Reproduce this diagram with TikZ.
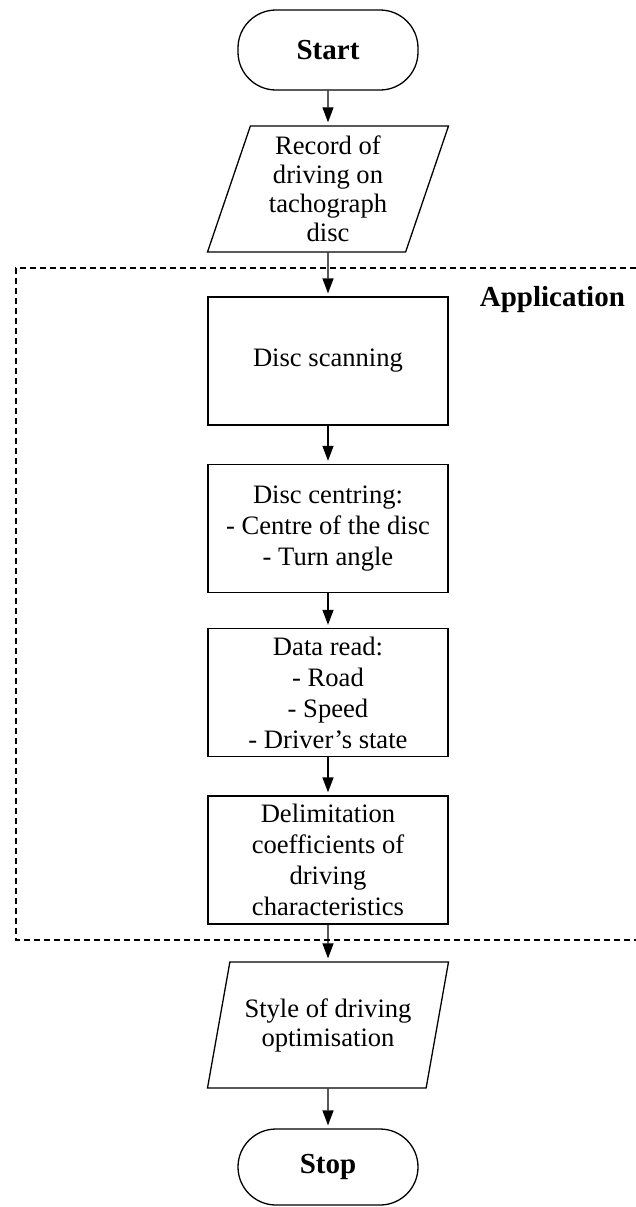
\documentclass[tikz,border=0pt]{standalone}
\usepackage{fontspec}
\setmainfont{Liberation Serif}
\usetikzlibrary{shapes.geometric,arrows.meta}
\newcommand{\txtfont}{\fontsize{13.3}{15.5}\selectfont}
\newcommand{\iofont}{\fontsize{13.3}{14.5}\selectfont}
\newcommand{\bigbf}{\fontsize{14.5}{17}\selectfont\bfseries}
\begin{document}
\begin{tikzpicture}[x=.5pt,y=-.5pt,
	every node/.style={font=\txtfont,align=center},
	term/.style={draw,line width=.65pt,rounded corners=19pt,minimum width=90pt,minimum height=40pt,font=\bigbf},
	proc/.style={draw,line width=.65pt,minimum width=120pt,minimum height=64pt,inner sep=1pt},
	io/.style={draw,line width=.65pt,trapezium,trapezium left angle=68.7,trapezium right angle=111.3,
		trapezium stretches body,minimum width=120.5pt,minimum height=63pt,inner sep=1pt,font=\iofont},
	flow/.style={line width=.65pt,-{Triangle[length=7.5pt,width=5.5pt]},shorten >=1.5pt},
	appframe/.style={line width=.55pt,dash pattern=on 3pt off 2pt}]
	\useasboundingbox (0,0) rectangle (636,1207);
	\node[term] (start) at (328,50) {Start};
	\node[io] (rec) at (328,189) {Record of\\driving on\\tachograph\\disc};
	\node[proc] (scan) at (328,361) {Disc scanning};
	\node[proc] (cent) at (328,528.5) {Disc centring:\\- Centre of the disc\\- Turn angle};
	\node[proc] (read) at (328,692.5) {Data read:\\- Road\\- Speed\\- Driver's state};
	\node[proc] (delim) at (328,860) {Delimitation\\coefficients of\\driving\\characteristics};
	\node[io] (style) at (328,1025) {Style of driving\\optimisation};
	\node[term,minimum height=38pt] (stop) at (328,1167) {Stop};
	% application frame, open to the right
	\coordinate (frNE) at (636,268);
	\coordinate (frSW) at (16,940);
	\coordinate (frSE) at (636,940);
	\draw[appframe] (frNE) -| (frSW) -- (frSE);
	\node[font=\bigbf,anchor=base east] (app) at (632,306) {Application};
	\draw[flow] (start) -- (rec);
	\draw[flow] (rec) -- (scan);
	\draw[flow] (scan) -- (cent);
	\draw[flow] (cent) -- (read);
	\draw[flow] (read) -- (delim);
	\draw[flow] (delim) -- (style);
	\draw[flow] (style) -- (stop);
\end{tikzpicture}
\end{document}
